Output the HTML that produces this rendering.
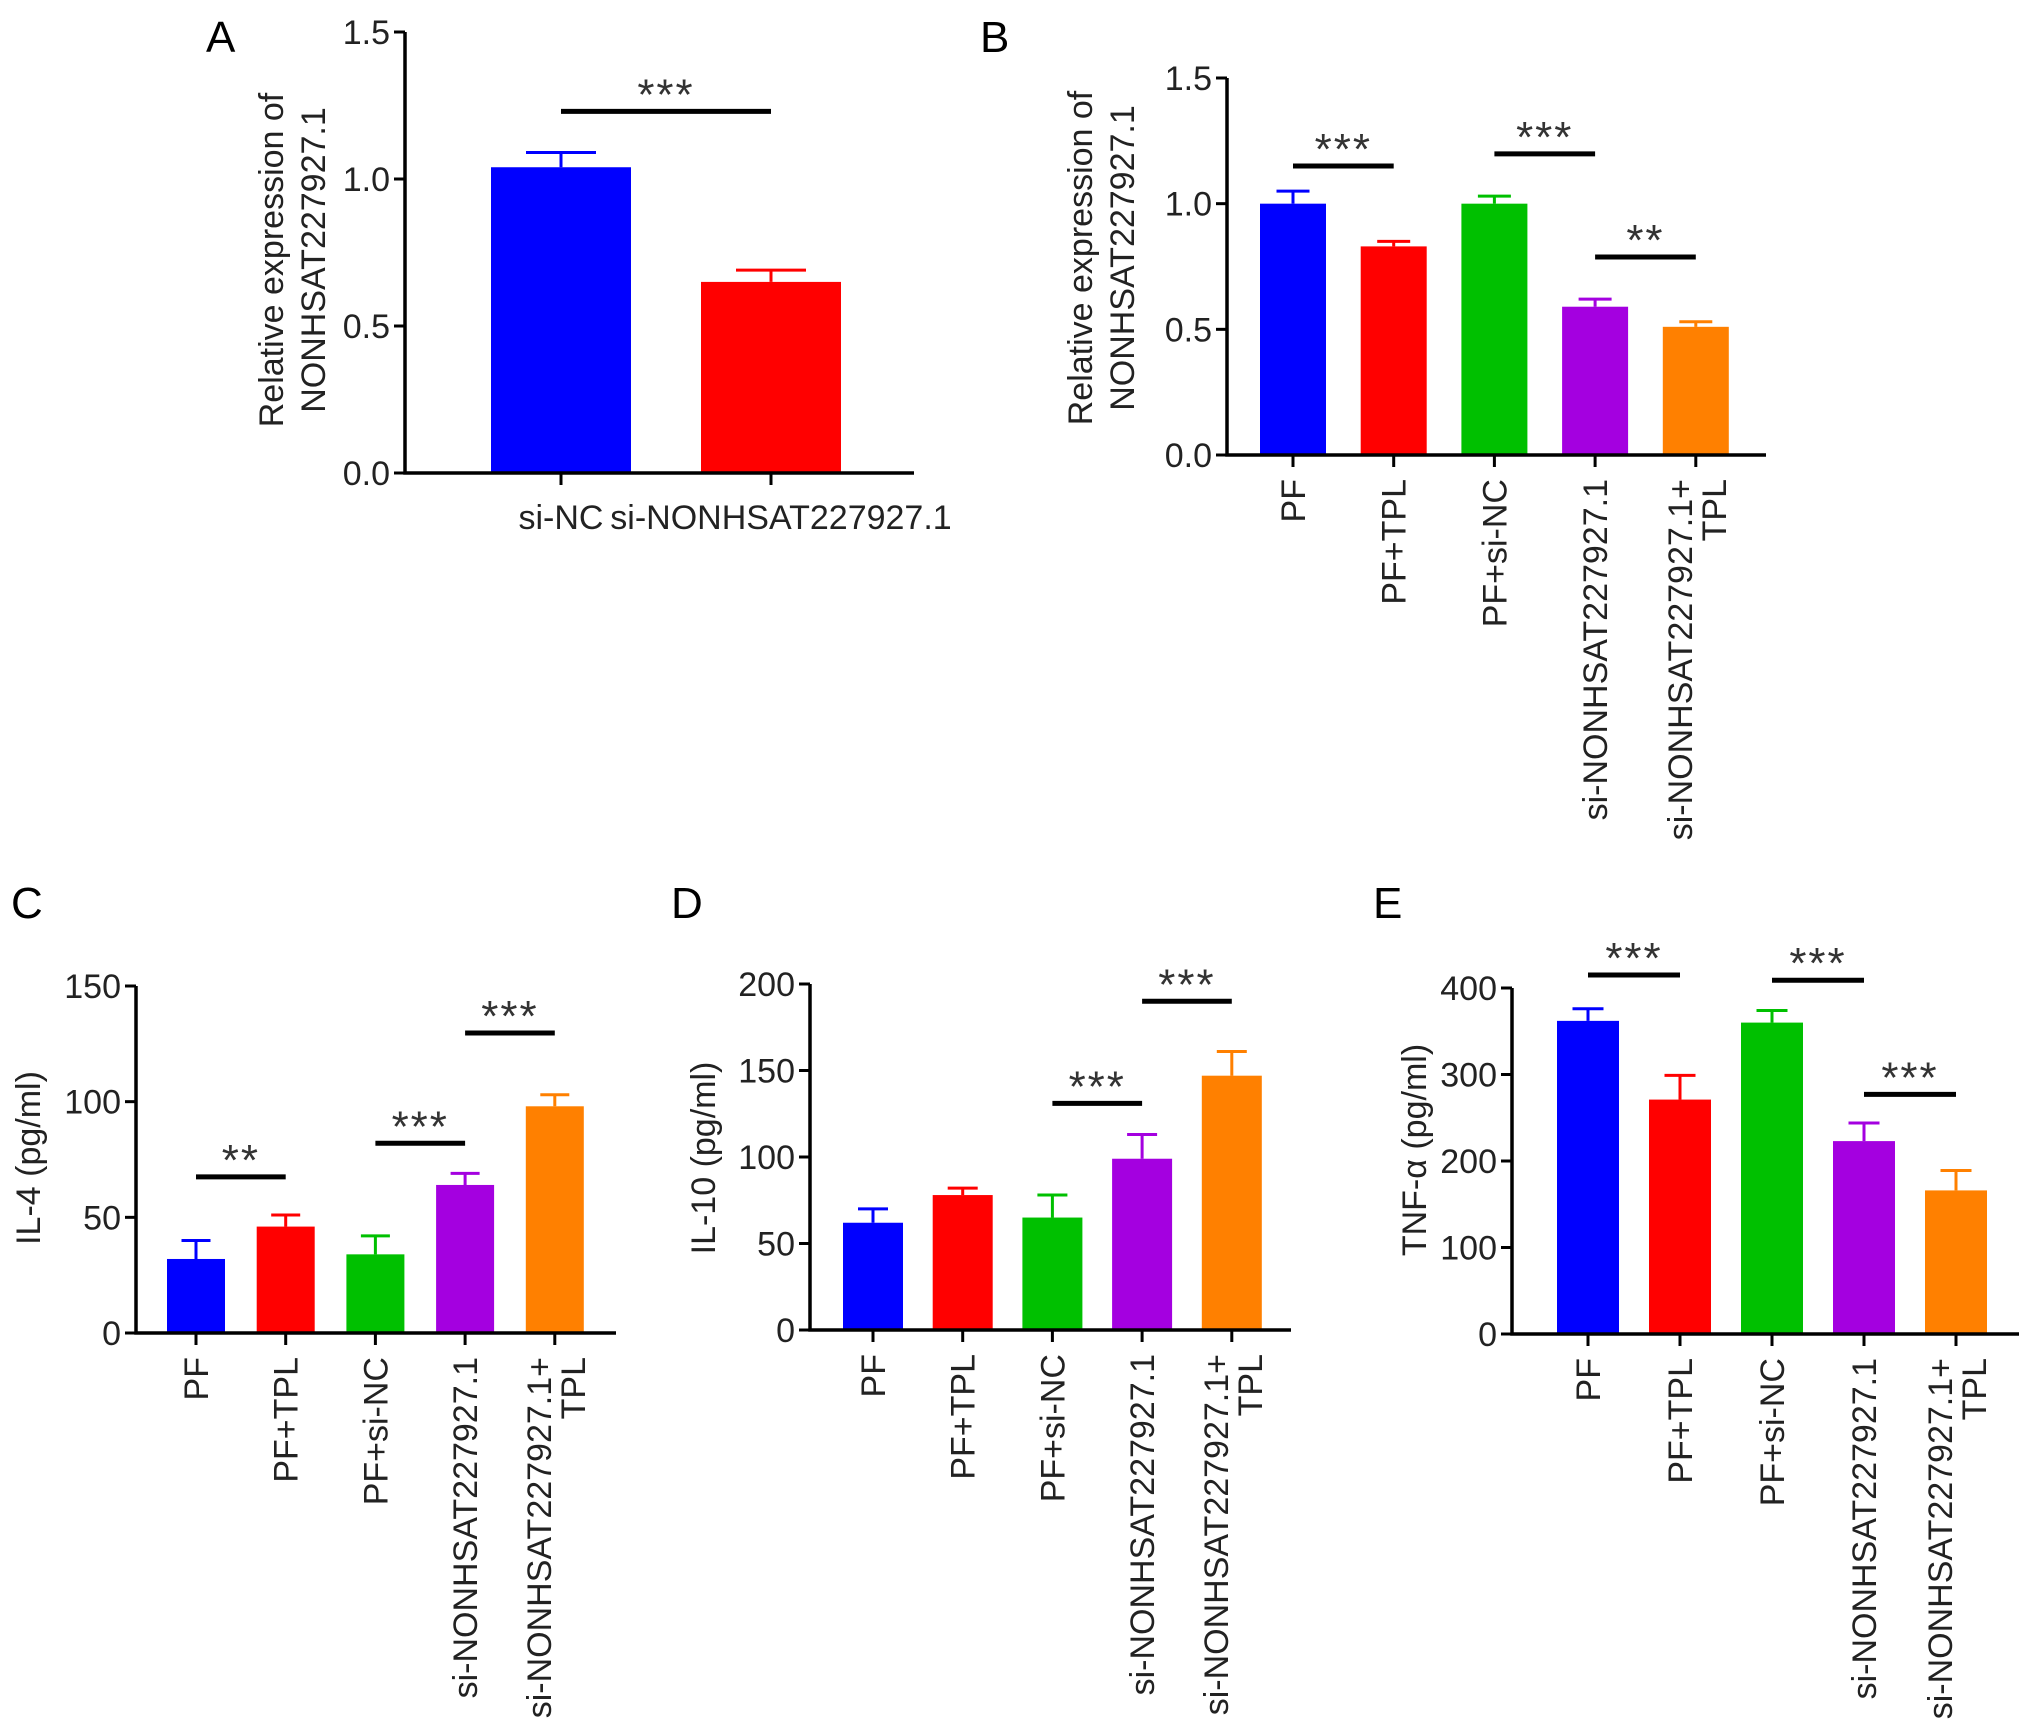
<!DOCTYPE html>
<html><head><meta charset="utf-8"><style>
html,body{margin:0;padding:0;background:#fff}
svg{display:block;font-family:"Liberation Sans",Arial,sans-serif}
</style></head><body>
<svg id="fig" width="2032" height="1725" viewBox="0 0 2032 1725" xmlns="http://www.w3.org/2000/svg"></svg>
<script>
const catsA=["si-NC","si-NONHSAT227927.1"];
const valsA=[1.04,0.65];
const errsA=[1.09,0.69];
const ticksA=[0,0.5,1.0,1.5];
const tickLabA=["0.0","0.5","1.0","1.5"];
const sigA=[[0,1,1.23,"***"]];

const cats5=["PF","PF+TPL","PF+si-NC","si-NONHSAT227927.1",["si-NONHSAT227927.1+","TPL"]];
const valsB=[1.0,0.83,1.0,0.59,0.51];
const errsB=[1.05,0.85,1.03,0.62,0.53];
const ticksB=[0,0.5,1.0,1.5];
const tickLabB=["0.0","0.5","1.0","1.5"];
const sigB=[[0,1,1.15,"***"],[2,3,1.198,"***"],[3,4,0.788,"**"]];

const valsC=[32,46,34,64,98];
const errsC=[40,51,42,69,103];
const ticksC=[0,50,100,150];
const sigC=[[0,1,67.5,"**"],[2,3,82,"***"],[3,4,129.7,"***"]];

const valsD=[62,78,65,99,147];
const errsD=[70,82,78,113,161];
const ticksD=[0,50,100,150,200];
const sigD=[[2,3,131,"***"],[3,4,190,"***"]];

const valsE=[362,271,360,223,166];
const errsE=[376,299,374,244,189];
const ticksE=[0,100,200,300,400];
const sigE=[[0,1,415,"***"],[2,3,409,"***"],[3,4,277,"***"]];

const colors=["#0000ff","#ff0000","#00c000","#a400e0","#ff8000"];
const colorsA=["#0000ff","#ff0000"];
const NS="http://www.w3.org/2000/svg";
const svg=document.getElementById('fig');
function mk(tag,attrs,parent,txt){const e=document.createElementNS(NS,tag);for(const k in attrs)e.setAttribute(k,attrs[k]);if(txt!==undefined)e.textContent=txt;(parent||svg).appendChild(e);return e;}
const FS=34;
function panel(c){
  const g=mk('g',{});
  
  
  const yS=v=>c.y0-(v/c.max)*(c.y0-c.yTop);
  const xS=i=>c.x1+i*c.step;
  const L=mk('text',{x:c.letter[0],y:c.letter[1],'font-size':44,fill:'#000'},g,c.letterText);
  
  
  c.vals.forEach((v,i)=>{
    const x=xS(i),col=c.colors[i];
    const r=mk('rect',{x:x-c.bw/2,y:yS(v),width:c.bw,height:c.y0-yS(v),fill:col},g);
    
    
    const e=mk('path',{d:`M${x},${yS(v)}V${yS(c.errs[i])}M${x-c.bw*0.25},${yS(c.errs[i])}H${x+c.bw*0.25}`,stroke:col,'stroke-width':3,fill:'none'},g);
    
    
  });
  const ax=mk('path',{d:`M${c.ax},${c.yTop}V${c.y0}H${c.xEnd}`,stroke:'#000','stroke-width':3.5,fill:'none'},g);
  
  
  c.ticks.forEach((t,i)=>{
    mk('path',{d:`M${c.ax-11},${yS(t)}H${c.ax}`,stroke:'#000','stroke-width':3},g);
    const tl=mk('text',{x:c.ax-15,y:yS(t)+12,'font-size':FS,'text-anchor':'end',fill:'#222'},g,c.tickLab[i]);
    
    
  });
  c.cats.forEach((cat,i)=>{
    const x=xS(i);
    mk('path',{d:`M${x},${c.y0}V${c.y0+12}`,stroke:'#000','stroke-width':3},g);
    let t;
    if(c.horizontal){
      t=mk('text',{x:x+(i===1?10:0),y:c.y0+56,'font-size':FS,'text-anchor':'middle',fill:'#222'},g,cat);
    } else if(Array.isArray(cat)){
      t=mk('g',{},g);
      mk('text',{x:x-4,y:c.y0+24,'font-size':FS,'text-anchor':'end',fill:'#222',transform:`rotate(-90 ${x-4} ${c.y0+24})`},t,cat[0]);
      mk('text',{x:x+30,y:c.y0+24,'font-size':FS,'text-anchor':'end',fill:'#222',transform:`rotate(-90 ${x+30} ${c.y0+24})`},t,cat[1]);
    } else {
      t=mk('text',{x:x+12,y:c.y0+24,'font-size':FS,'text-anchor':'end',fill:'#222',transform:`rotate(-90 ${x+12} ${c.y0+24})`},g,cat);
    }
    
    
  });
  const tg=mk('g',{},g);
  
  
  c.title.forEach((ln,k)=>{
    const tx=c.titleX[k];
    mk('text',{x:tx,y:c.titleY,'font-size':FS,'text-anchor':'middle',fill:'#222',transform:`rotate(-90 ${tx} ${c.titleY})`},tg,ln);
  });
  c.sig.forEach(s=>{
    const y=yS(s[2]);
    const sl=mk('path',{d:`M${xS(s[0])},${y}H${xS(s[1])}`,stroke:'#000','stroke-width':5},g);
    
    
    const st=mk('text',{x:(xS(s[0])+xS(s[1]))/2,y:y-2,'font-size':44,'letter-spacing':2,'text-anchor':'middle',fill:'#333'},g,s[3]);
    
    
  });
}

panel({name:'panel-a',letterText:'A',letter:[206,52],ax:405,y0:473,yTop:32,max:1.5,xEnd:914,x1:561,step:210,bw:140,
  vals:valsA,errs:errsA,colors:colorsA,ticks:ticksA,tickLab:tickLabA,cats:catsA,horizontal:true,sig:sigA,
  title:["Relative expression of","NONHSAT227927.1"],titleX:[283,325],titleY:260});
panel({name:'panel-b',letterText:'B',letter:[980,52],ax:1227,y0:455,yTop:78,max:1.5,xEnd:1766,x1:1293,step:100.7,bw:66,
  vals:valsB,errs:errsB,colors:colors,ticks:ticksB,tickLab:tickLabB,cats:cats5,sig:sigB,
  title:["Relative expression of","NONHSAT227927.1"],titleX:[1092,1134],titleY:258});
panel({name:'panel-c',letterText:'C',letter:[11,918],ax:136,y0:1333,yTop:986,max:150,xEnd:616,x1:196,step:89.7,bw:58,
  vals:valsC,errs:errsC,colors:colors,ticks:ticksC,tickLab:ticksC.map(String),cats:cats5,sig:sigC,
  title:["IL-4 (pg/ml)"],titleX:[40],titleY:1158});
panel({name:'panel-d',letterText:'D',letter:[671,918],ax:810,y0:1330,yTop:984,max:200,xEnd:1291,x1:873,step:89.7,bw:60,
  vals:valsD,errs:errsD,colors:colors,ticks:ticksD,tickLab:ticksD.map(String),cats:cats5,sig:sigD,
  title:["IL-10 (pg/ml)"],titleX:[715],titleY:1158});
panel({name:'panel-e',letterText:'E',letter:[1373,918],ax:1512,y0:1334,yTop:988,max:400,xEnd:2019,x1:1588,step:92,bw:62,
  vals:valsE,errs:errsE,colors:colors,ticks:ticksE,tickLab:ticksE.map(String),cats:cats5,sig:sigE,
  title:["TNF-α (pg/ml)"],titleX:[1426],titleY:1150});
</script>
</body></html>
